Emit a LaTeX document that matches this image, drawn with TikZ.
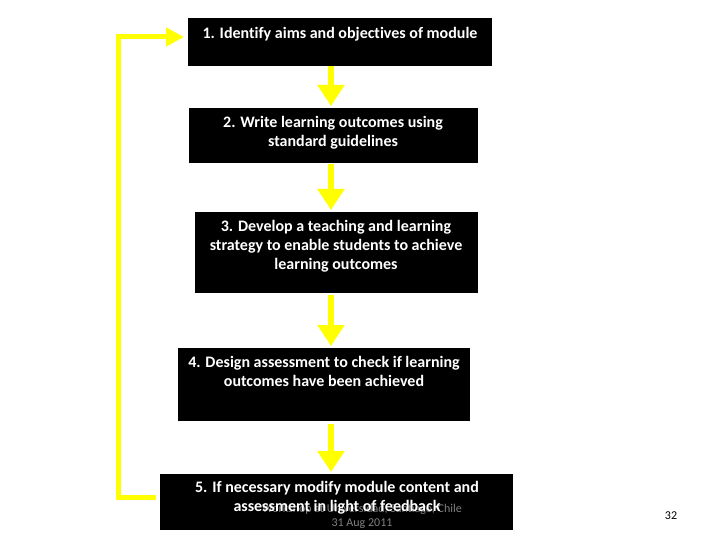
\documentclass[tikz,border=0pt]{standalone}
\usepackage{fontspec}
\setmainfont{Carlito}[Ligatures=NoCommon]
\usetikzlibrary{arrows.meta}
\definecolor{ylw}{RGB}{255,255,0}
\tikzset{
  box/.style={fill=black, draw=none, anchor=north west, inner sep=0pt},
  txt/.style={text=white, font=\fontsize{16}{19}\selectfont\bfseries, align=center, anchor=north, inner sep=0pt},
  flow/.style={draw=ylw, line width=6pt, -{Triangle[width=26pt,length=21pt]}},
  back/.style={draw=ylw, line width=5pt, -{Triangle[width=18pt,length=18pt]}}
}
\begin{document}
\begin{tikzpicture}[x=1pt,y=-1pt]
\useasboundingbox (0,0) rectangle (720,540);
\node[box, minimum width=304pt, minimum height=48pt] (b1) at (188,18) {};
\node[txt] (t1) at (340,27) {1. Identify aims and objectives of module};
\node[box, minimum width=289pt, minimum height=55pt] (b2) at (189,108) {};
\node[txt] (t2) at (333,116) {2. Write learning outcomes using\\standard guidelines};
\node[box, minimum width=283pt, minimum height=81pt] (b3) at (195,212) {};
\node[txt] (t3) at (336,220) {3. Develop a teaching and learning\\strategy to enable students to achieve\\learning outcomes};
\node[box, minimum width=292pt, minimum height=73pt] (b4) at (178,348) {};
\node[txt] (t4) at (324,356) {4. Design assessment to check if learning\\outcomes have been achieved};
\node[box, minimum width=353pt, minimum height=56pt] (b5) at (160,474) {};
\node[font=\fontsize{12}{13.5}\selectfont, text=gray, align=center, anchor=north, inner sep=0pt] (ft) at (362,504) {Workshop at Universidad, Santiago, Chile\\31 Aug 2011};
\node[txt] (t5) at (337,481) {5. If necessary modify module content and\\assessment in light of feedback};
\node[font=\fontsize{12}{13}\selectfont, anchor=center, inner sep=0pt] (pn) at (671,516) {32};
\coordinate (ax) at (331,0);
\draw[flow] (b1.south -| ax) -- ([yshift=2pt]b2.north -| ax);
\draw[flow] ([yshift=-1pt]b2.south -| ax) -- ([yshift=2pt]b3.north -| ax);
\draw[flow] ([yshift=-2pt]b3.south -| ax) -- ([yshift=2pt]b4.north -| ax);
\draw[flow] ([yshift=-3pt]b4.south -| ax) -- ([yshift=2pt]b5.north -| ax);
\coordinate (c1) at (118,497);
\coordinate (c2) at (118,37);
\draw[back] ([xshift=-4pt]b5.west |- c1) -- (c1) -- (c2) -- ([xshift=-4pt]b1.west |- c2);
\end{tikzpicture}
\end{document}
